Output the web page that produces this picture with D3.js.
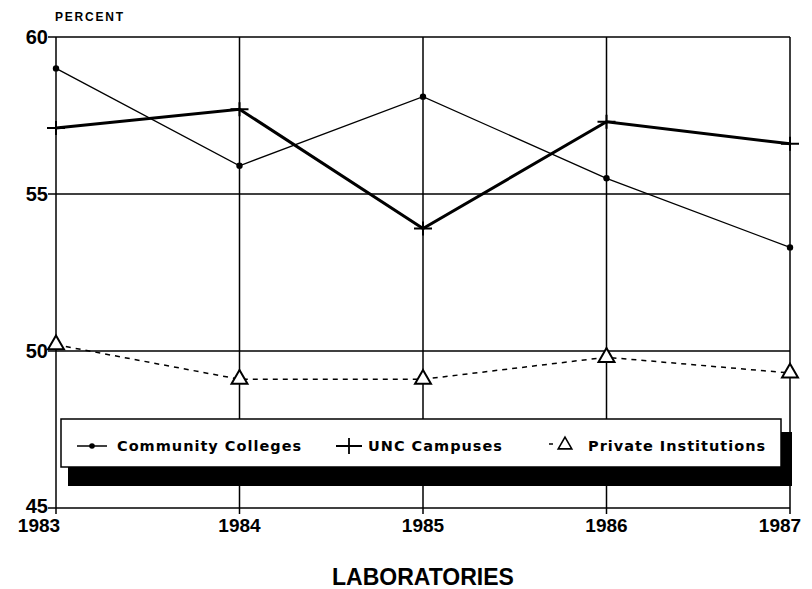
<!DOCTYPE html>
<html>
<head>
<meta charset="utf-8">
<script src="https://cdn.jsdelivr.net/npm/d3@7"></script>
<style>
  body { margin: 0; background: #fff; }
  svg text { font-family: "Liberation Sans", Arial, sans-serif; font-weight: bold; fill: #000; }
  svg .legend text { font-family: "DejaVu Sans", sans-serif; }
</style>
</head>
<body>
<div id="chart"></div>
<script>
var years = [1983, 1984, 1985, 1986, 1987];
var yTicks = [45, 50, 55, 60];
var community = [59.0, 55.9, 58.1, 55.5, 53.3];
var unc = [57.1, 57.7, 53.9, 57.3, 56.6];
var privateInst = [50.2, 49.1, 49.1, 49.8, 49.3];

var width = 812, height = 589;
var plotLeft = 56, plotRight = 790, plotTop = 37, plotBottom = 508;

var svg = d3.select('#chart').append('svg')
  .attr('width', width)
  .attr('height', height);

var x = d3.scaleLinear().domain([1983, 1987]).range([plotLeft, plotRight]);
var y = d3.scaleLinear().domain([45, 60]).range([plotBottom, plotTop]);

// grid
svg.append('g').selectAll('line')
  .data(yTicks).enter().append('line')
  .attr('x1', plotLeft - 8).attr('x2', plotRight)
  .attr('y1', function (d) { return y(d); })
  .attr('y2', function (d) { return y(d); })
  .attr('stroke', '#000').attr('stroke-width', 1.5);

svg.append('g').selectAll('line')
  .data(years).enter().append('line')
  .attr('x1', function (d) { return x(d); })
  .attr('x2', function (d) { return x(d); })
  .attr('y1', plotTop).attr('y2', plotBottom + 6)
  .attr('stroke', '#000').attr('stroke-width', 1.5);

// axis labels
svg.append('g').selectAll('text')
  .data(yTicks).enter().append('text')
  .attr('x', plotLeft - 8)
  .attr('y', function (d) { return y(d) + (d === 45 ? -2 : 0); })
  .attr('dy', '0.35em')
  .attr('text-anchor', 'end')
  .attr('font-size', 20)
  .text(function (d) { return d; });

svg.append('g').selectAll('text')
  .data(years).enter().append('text')
  .attr('x', function (d, i) { return x(d) + (i === 0 ? -17 : (i === years.length - 1 ? -10 : 0)); })
  .attr('y', 532)
  .attr('text-anchor', 'middle')
  .attr('font-size', 19)
  .text(function (d) { return d; });

svg.append('text')
  .attr('x', 55).attr('y', 21)
  .attr('font-size', 12)
  .attr('letter-spacing', 1.8)
  .text('PERCENT');

svg.append('text')
  .attr('x', 423).attr('y', 585)
  .attr('text-anchor', 'middle')
  .attr('font-size', 23)
  .text('LABORATORIES');

var line = d3.line()
  .x(function (d, i) { return x(years[i]); })
  .y(function (d) { return y(d); });

// community colleges
svg.append('path').datum(community)
  .attr('d', line).attr('fill', 'none')
  .attr('stroke', '#000').attr('stroke-width', 1.3);
svg.append('g').selectAll('circle')
  .data(community).enter().append('circle')
  .attr('cx', function (d, i) { return x(years[i]); })
  .attr('cy', function (d) { return y(d); })
  .attr('r', 3.2).attr('fill', '#000');

// UNC
svg.append('path').datum(unc)
  .attr('d', line).attr('fill', 'none')
  .attr('stroke', '#000').attr('stroke-width', 3);
svg.append('g').selectAll('path')
  .data(unc).enter().append('path')
  .attr('transform', function (d, i) { return 'translate(' + x(years[i]) + ',' + y(d) + ')'; })
  .attr('d', 'M-9,0H9M0,-7V7')
  .attr('stroke', '#000').attr('stroke-width', 2);

// private
svg.append('path').datum(privateInst)
  .attr('d', line).attr('fill', 'none')
  .attr('stroke', '#000').attr('stroke-width', 1.5)
  .attr('stroke-dasharray', '5,5');
var tri = d3.symbol().type(d3.symbolTriangle).size(110);
svg.append('g').selectAll('path')
  .data(privateInst).enter().append('path')
  .attr('transform', function (d, i) { return 'translate(' + x(years[i]) + ',' + y(d) + ')'; })
  .attr('d', tri)
  .attr('fill', '#fff').attr('stroke', '#000').attr('stroke-width', 2);

// legend
var lg = svg.append('g').attr('class', 'legend');
lg.append('rect')
  .attr('x', 68).attr('y', 432).attr('width', 724).attr('height', 54)
  .attr('fill', '#000');
lg.append('rect')
  .attr('x', 61).attr('y', 419).attr('width', 720).attr('height', 48)
  .attr('fill', '#fff').attr('stroke', '#000').attr('stroke-width', 1.5);

var ly = 451;
lg.append('line').attr('x1', 77).attr('x2', 107).attr('y1', ly - 5).attr('y2', ly - 5)
  .attr('stroke', '#000').attr('stroke-width', 1.5);
lg.append('circle').attr('cx', 92).attr('cy', ly - 5).attr('r', 2.8).attr('fill', '#000');
lg.append('text').attr('x', 117).attr('y', ly).attr('font-size', 14.5)
  .attr('letter-spacing', 1).text('Community Colleges');

lg.append('path').attr('d', 'M336,' + (ly - 5) + 'H362M349,' + (ly - 13) + 'V' + (ly + 3))
  .attr('stroke', '#000').attr('stroke-width', 1.8);
lg.append('text').attr('x', 368).attr('y', ly).attr('font-size', 14.5)
  .attr('letter-spacing', 1).text('UNC Campuses');

lg.append('line').attr('x1', 549).attr('x2', 553).attr('y1', ly - 7).attr('y2', ly - 7)
  .attr('stroke', '#000').attr('stroke-width', 1.5);
lg.append('path').attr('transform', 'translate(565,' + (ly - 6) + ')')
  .attr('d', d3.symbol().type(d3.symbolTriangle).size(80))
  .attr('fill', '#fff').attr('stroke', '#000').attr('stroke-width', 1.6);
lg.append('text').attr('x', 588).attr('y', ly).attr('font-size', 14.5)
  .attr('letter-spacing', 1).text('Private Institutions');
</script>
</body>
</html>
